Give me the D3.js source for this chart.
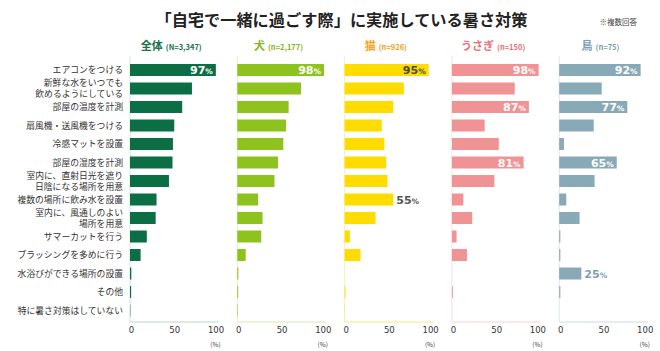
<!DOCTYPE html>
<html>
<head>
<meta charset="utf-8">
<script src="https://cdn.jsdelivr.net/npm/d3@7"></script>
<style>
  body { margin: 0; background: #fff; }
  text { font-family: "Noto Sans CJK JP", "Noto Sans", sans-serif; }
</style>
</head>
<body>
<svg width="660" height="351"></svg>
<script>
// categories (top to bottom)
var categories = [
    'エアコンをつける',
    '新鮮な水をいつでも\n飲めるようにしている',
    '部屋の温度を計測',
    '扇風機・送風機をつける',
    '冷感マットを設置',
    '部屋の湿度を計測',
    '室内に、直射日光を遮り\n日陰になる場所を用意',
    '複数の場所に飲み水を設置',
    '室内に、風通しのよい\n場所を用意',
    'サマーカットを行う',
    'ブラッシングを多めに行う',
    '水浴びができる場所の設置',
    'その他',
    '特に暑さ対策はしていない'
];

var seriesNames = ['全体', '犬', '猫', 'うさぎ', '鳥'];
var seriesN = ['(N=3,347)', '(n=2,177)', '(n=926)', '(n=150)', '(n=75)'];

// percentages
var valuesAll    = [97, 70, 59, 50, 48.5, 48, 44, 30, 29, 19, 12, 1.5, 1.3, 0.4];
var valuesDog    = [98, 72, 58, 55, 52, 46, 42, 23.5, 28.5, 27, 9.5, 1.2, 1, 0.5];
var valuesCat    = [95, 67, 55, 42, 45, 47, 48.5, 55, 35, 6, 18, 0, 1, 0.3];
var valuesRabbit = [98, 71, 87, 37, 53, 81, 48, 13, 23, 5.3, 17, 0, 1, 0];
var valuesBird   = [92, 48, 77, 39, 5.3, 65, 40, 8, 23, 1.3, 1.3, 25, 1.3, 0];

// which rows carry a value label
var labeledAll    = [0];
var labeledDog    = [0];
var labeledCat    = [0, 7];
var labeledRabbit = [0, 2, 5];
var labeledBird   = [0, 2, 5, 11];

var ticks = [0, 50, 100];

var series = [
    { values: valuesAll,    labeled: labeledAll,    bar: '#0b6e45', head: '#17734a', axis: '#cfe5d9', inText: '#fff', outText: '#555' },
    { values: valuesDog,    labeled: labeledDog,    bar: '#8dc21f', head: '#86b61e', axis: '#e3f0c8', inText: '#fff', outText: '#555' },
    { values: valuesCat,    labeled: labeledCat,    bar: '#ffdc00', head: '#f7a11a', axis: '#fdf0b0', inText: '#4a4a4a', outText: '#555' },
    { values: valuesRabbit, labeled: labeledRabbit, bar: '#f09394', head: '#ec6f74', axis: '#fbe0e0', inText: '#fff', outText: '#555' },
    { values: valuesBird,   labeled: labeledBird,   bar: '#88a9b6', head: '#7d9eac', axis: '#dde7eb', inText: '#fff', outText: '#7d9fae' }
];

var svg = d3.select('svg');

var rowTop = 60.75, rowBottom = 319.75;
var axisY = 322;
var barH = 12;
var panelX0 = 130, panelStep = 107.3, panelW = 88.5;
var numFont = '"DejaVu Sans", Verdana, sans-serif';

var yScale = d3.scaleBand()
    .domain(categories)
    .range([rowTop, rowBottom]);

// title
svg.append('text')
    .attr('x', 341.5)
    .attr('y', 26)
    .attr('text-anchor', 'middle')
    .style('font-size', '16.2px')
    .style('font-weight', 'bold')
    .attr('fill', '#222')
    .text('「自宅で一緒に過ごす際」に実施している暑さ対策');

svg.append('text')
    .attr('x', 637)
    .attr('y', 25)
    .attr('text-anchor', 'end')
    .style('font-size', '7.5px')
    .attr('fill', '#444')
    .text('※複数回答');

// category labels, two-line ones split on \n
categories.forEach(function(c) {
    var lines = c.split('\n');
    var cy = yScale(c) + yScale.bandwidth() / 2;
    lines.forEach(function(line, i) {
        svg.append('text')
            .attr('x', 123)
            .attr('y', cy + 3.2 + (i - (lines.length - 1) / 2) * 11)
            .attr('text-anchor', 'end')
            .style('font-size', '8.8px')
            .attr('fill', '#333')
            .text(line);
    });
});

series.forEach(function(s, i) {
    var x0 = panelX0 + i * panelStep;
    var xScale = d3.scaleLinear().domain([0, 100]).range([x0, x0 + panelW]);
    var g = svg.append('g');

    // header
    var head = g.append('text')
        .attr('x', x0 + panelW / 2 - 3)
        .attr('y', 50)
        .attr('text-anchor', 'middle')
        .attr('fill', s.head);
    head.append('tspan')
        .style('font-size', '11px')
        .style('font-weight', 'bold')
        .text(seriesNames[i]);
    head.append('tspan')
        .attr('dx', 3)
        .style('font-size', '7.5px')
        .style('font-weight', 'bold')
        .text(seriesN[i]);

    // axis lines
    g.append('line')
        .attr('x1', xScale(0)).attr('x2', xScale(0))
        .attr('y1', 56).attr('y2', axisY)
        .attr('stroke', s.axis).attr('stroke-width', 1);
    g.append('line')
        .attr('x1', xScale(0)).attr('x2', xScale(100))
        .attr('y1', axisY).attr('y2', axisY)
        .attr('stroke', s.axis).attr('stroke-width', 1.5);

    // bars
    g.selectAll('.bar')
        .data(s.values)
        .enter()
        .append('rect')
        .attr('x', xScale(0))
        .attr('y', function(d, j) { return yScale(categories[j]) + (yScale.bandwidth() - barH) / 2; })
        .attr('width', function(d) { return xScale(d) - xScale(0); })
        .attr('height', barH)
        .attr('fill', s.bar);

    // value labels
    s.labeled.forEach(function(j) {
        var v = s.values[j];
        var inside = v > 60;
        var t = g.append('text')
            .attr('x', inside ? xScale(v) - 3 : xScale(v) + 3)
            .attr('y', yScale(categories[j]) + yScale.bandwidth() / 2 + 4)
            .attr('text-anchor', inside ? 'end' : 'start')
            .attr('fill', inside ? s.inText : s.outText)
            .style('font-family', numFont)
            .style('font-weight', 'bold');
        t.append('tspan').style('font-size', '11px').text(v);
        t.append('tspan').style('font-size', '7.5px').text('%');
    });

    // x axis ticks
    var axis = g.append('g')
        .attr('transform', 'translate(0,' + axisY + ')')
        .call(d3.axisBottom(xScale).tickValues(ticks).tickSize(0).tickPadding(5));
    axis.select('.domain').remove();
    axis.selectAll('text')
        .style('font-size', '8.5px')
        .style('font-family', numFont)
        .attr('fill', '#333')
        .attr('dx', function(d) { return d === 100 ? -3 : (d === 0 ? 1 : 0); });

    g.append('text')
        .attr('x', xScale(100) - 3)
        .attr('y', 347)
        .attr('text-anchor', 'middle')
        .style('font-size', '6.5px')
        .attr('fill', '#444')
        .text('(%)');
});
</script>
</body>
</html>
